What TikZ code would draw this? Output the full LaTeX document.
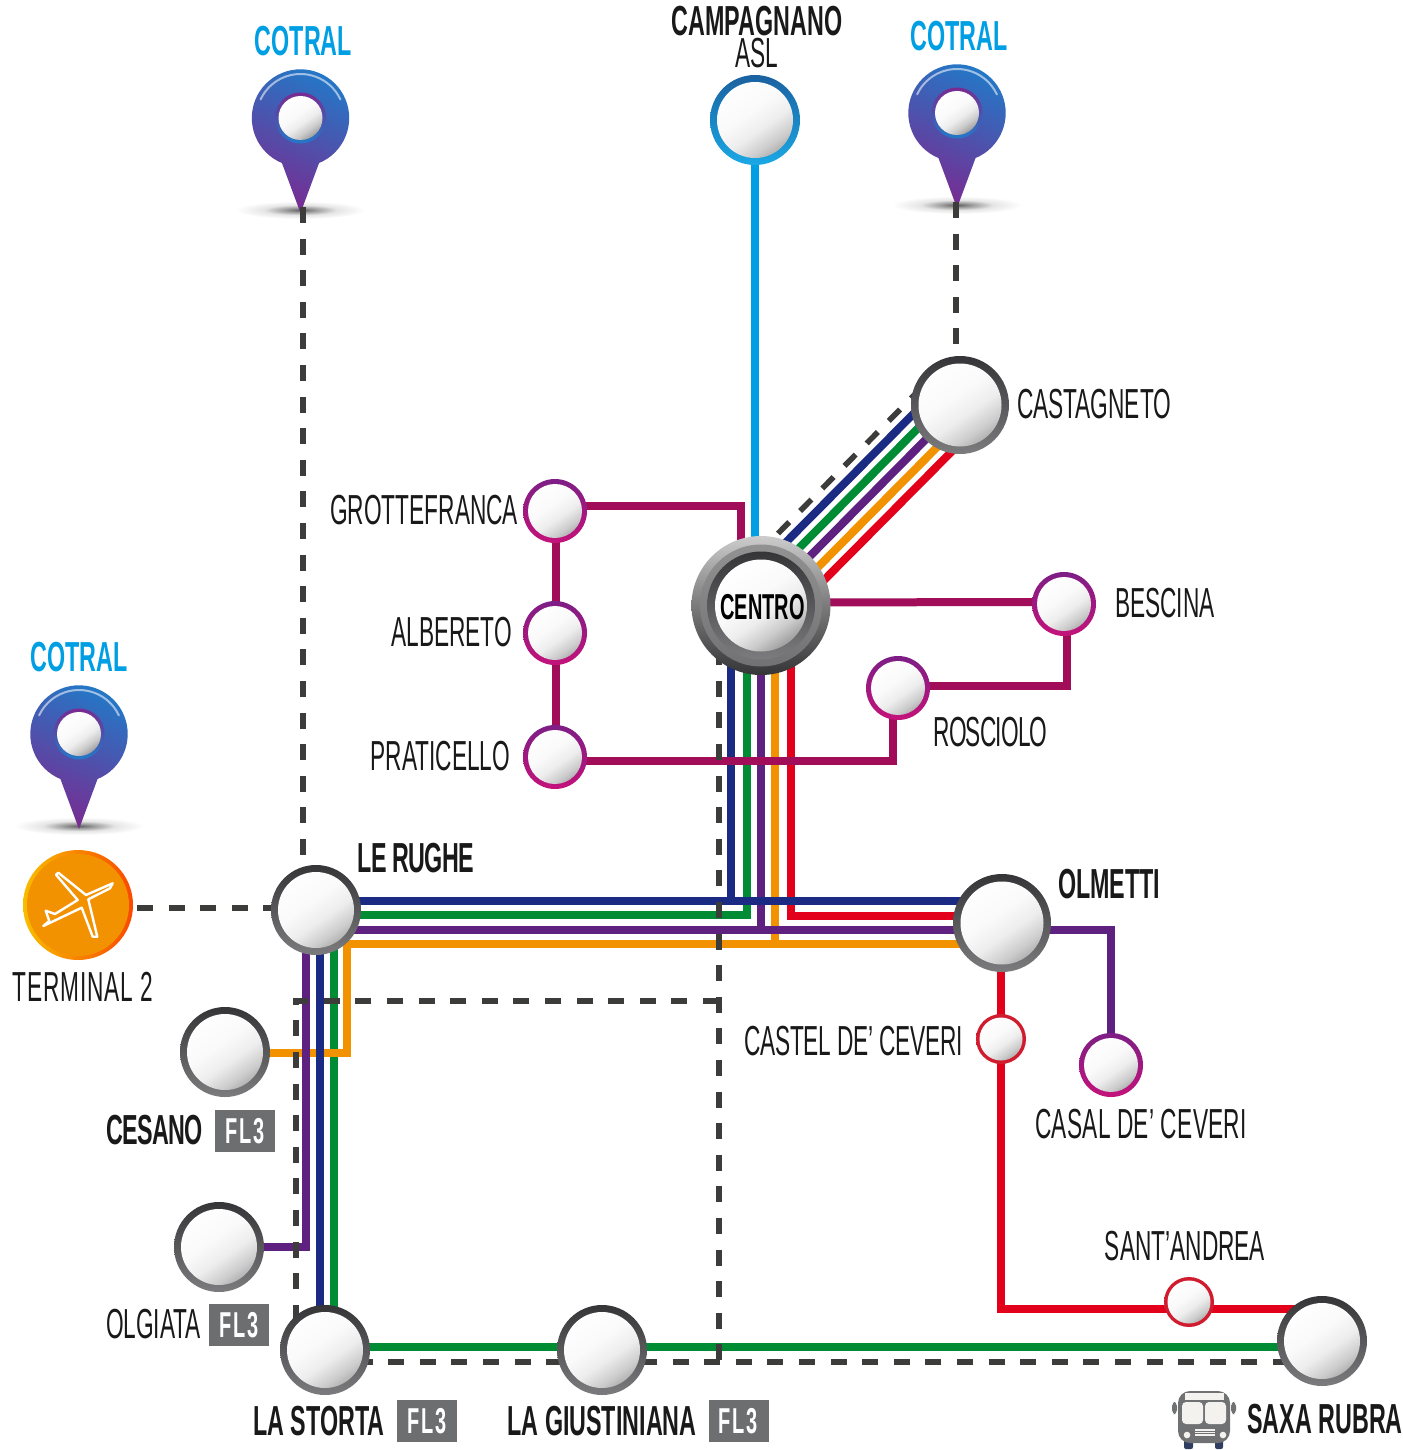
\documentclass[tikz,border=0pt]{standalone}
\usepackage{fontspec}
\setmainfont[FakeStretch=0.54, BoldFeatures={FakeStretch=0.555}]{Liberation Sans}
\usetikzlibrary{positioning,backgrounds}
\definecolor{navyline}{HTML}{1B2A83}
\definecolor{greenline}{HTML}{008C35}
\definecolor{purpleline}{HTML}{5F2180}
\definecolor{orangeline}{HTML}{F39200}
\definecolor{redline}{HTML}{E2001A}
\definecolor{plumline}{HTML}{A20D5A}
\definecolor{cyanline}{HTML}{009FE3}
\definecolor{walkgrey}{HTML}{3C3C3B}
\definecolor{ringdark}{HTML}{353437}
\definecolor{ringgrey}{HTML}{7C7C7E}
\definecolor{badgegrey}{HTML}{6D6E70}
\definecolor{pinblue}{HTML}{2279C8}
\definecolor{pinpurple}{HTML}{7A2A90}
\definecolor{ringplum}{HTML}{7D1E86}
\definecolor{ringmagenta}{HTML}{C4127A}
\definecolor{ringred}{HTML}{D01C2E}
\definecolor{busgrey}{HTML}{707173}
\definecolor{buscream}{HTML}{F3F2EE}
\definecolor{busnavy}{HTML}{2E3D60}
\pgfdeclareradialshading{pinshadow}{\pgfpoint{0bp}{0bp}}{color(0bp)=(black!62); color(6bp)=(black!38); color(14bp)=(black!10); color(25bp)=(white); color(50bp)=(white)}
\pgfdeclareverticalshading{ballgrad}{100bp}{color(0bp)=(black!40); color(25bp)=(black!38); color(34bp)=(black!20); color(44bp)=(black!7); color(55bp)=(black!2); color(75bp)=(white); color(100bp)=(white)}
\tikzset{
  ballshade/.style={shading=ballgrad, shading angle=35},
  stn/.style n args={4}{circle, inner sep=0pt, outer sep=0pt, minimum size=#1*1pt,
    top color=#3, bottom color=#4,
    path picture={\shade[ballshade] (path picture bounding box.center) circle[radius=#1-#2];}},
  bigstn/.style={stn={45}{7}{ringdark}{ringgrey}},
  hubstn/.style={stn={49}{7.5}{ringdark}{ringgrey}},
  bluestn/.style={stn={45}{7}{pinblue!80!black}{cyanline!90!white}},
  plumstn/.style={stn={32}{5}{ringplum}{ringmagenta}},
  redstn/.style={stn={25}{3.5}{ringred}{ringred}},
  rail/.style={line width=4pt},
  walk/.style={line width=2.8pt, draw=walkgrey, dash pattern=on 8pt off 7.8pt},
  lbl/.style={inner sep=0pt, outer sep=0pt, yshift=.7pt, text height=15pt, text depth=0pt, text=black!90, font=\fontsize{21}{21}\selectfont},
  boldlbl/.style={lbl, font=\fontsize{21}{21}\selectfont\bfseries},
  cotral/.style={boldlbl, text=cyanline},
  fl/.style={fill=badgegrey, text=white, inner sep=0pt, outer sep=0pt, minimum width=30pt, minimum height=21pt,
    text height=12.5pt, text depth=0pt, font=\fontsize{18}{18}\selectfont\bfseries\addfontfeatures{LetterSpace=5}},
  pinmark/.pic={
    \begin{scope}[yscale=-1]
      \shade[shading=pinshadow] (0,-92) ellipse (65 and 9);
      \shade[top color=pinblue, bottom color=pinpurple, shading angle=-25]
        (0,-95) -- (-67.6:48.7) arc (-67.6:247.6:48.7) -- cycle;
      \draw[white, opacity=.55, line width=1pt, line cap=round] (25:44) arc (25:155:44);
      \shade[top color=pinpurple, bottom color=pinblue] (0,0) circle (25.5);
      \shade[ballshade] (0,0) circle (22);
    \end{scope}
    \coordinate (-tip) at (0,89);
    \coordinate (-top) at (0,-48.7);
  },
}
\begin{document}
\begin{tikzpicture}[x=0.5pt, y=-0.5pt]
  \useasboundingbox (0,0) rectangle (1402,1450);

  % stations
  \node[plumstn] (grotte) at (555,511) {};
  \node[plumstn] (albereto) at (555,633) {};
  \node[plumstn] (praticello) at (555,757) {};
  \node[plumstn] (bescina) at (1064,604) {};
  \node[plumstn] (rosciolo) at (898,688) {};
  \node[plumstn] (casal) at (1111,1065) {};
  \node[redstn] (castel) at (1001,1039) {};
  \node[redstn] (sant) at (1189,1302) {};
  \node[bluestn] (campagnano) at (755,120) {};
  \node[hubstn] (castagneto) at (960,405) {};
  \node[hubstn] (olmetti) at (1002,923) {};
  \node[bigstn] (lerughe) at (316,910) {};
  \node[bigstn] (cesano) at (225,1052) {};
  \node[bigstn] (olgiata) at (219,1247) {};
  \node[bigstn] (lastorta) at (325,1350) {};
  \node[bigstn] (giustiniana) at (602,1350) {};
  \node[bigstn] (saxa) at (1322,1341) {};
  \node[circle, inner sep=0pt, outer sep=0pt, minimum size=55pt, left color=orangeline!60!yellow, right color=orangeline!50!red] (terminal) at (78,905) {};
  \node[circle, inner sep=0pt, minimum size=51pt, fill=orangeline] (terminalcore) at (terminal.center) {};
  \draw[white, line width=1.2pt, line join=round, shift={(terminal.center)}] (34.7,-21.7) -- (8,-10) -- (-19.7,-32.3) -- (-22,-30.3) -- (-.3,-5) -- (-23,9) -- (-32.3,5.7) -- (-28.7,16) -- (-34.7,21) -- (3.7,2.7) -- (14.7,31.7) -- (19.3,31.7) -- (10.3,-5.7) -- (32,-16.7) -- cycle;
  \node[circle, inner sep=0pt, outer sep=0pt, minimum size=69.5pt, top color=black!20, bottom color=ringdark, middle color=black!52,
    path picture={
      \shade[top color=black!42, bottom color=ringgrey!90!black] (path picture bounding box.center) circle (61);
      \shade[top color=ringdark, bottom color=ringgrey] (path picture bounding box.center) circle (54);
      \shade[ballshade] (path picture bounding box.center) circle (46);
    }, text height=14.4pt, text depth=0pt, font=\fontsize{18}{18}\selectfont\bfseries] (centro) at (761,605.5) {\hspace*{1.5pt}CENTRO};

  \begin{scope}[on background layer]
    \pic (pina) at (300.5,118) {pinmark};
    \pic (pinb) at (957,113) {pinmark};
    \pic (pinc) at (79,734) {pinmark};

    % lines
    \draw[rail, greenline] ([shift={(-14,0)}]centro.center) |- ([shift={(0,5)}]lerughe.center);
    \draw[rail, greenline] ([shift={(18,0)}]lerughe.center) -- ([shift={(9,0)}]lastorta.center);
    \draw[rail, greenline] ([shift={(0,-3)}]lastorta.center) -- ([shift={(0,6)}]saxa.center);
    \draw[rail, orangeline] ([shift={(14,0)}]centro.center) |- ([shift={(0,21)}]olmetti.center);
    \draw[rail, orangeline] ([shift={(0,21)}]olmetti.center) -| ([shift={(122,1)}]cesano.center) -- ([shift={(0,1)}]cesano.center);
    \draw[rail, purpleline] (centro.center) |- ([shift={(0,7)}]olmetti.center);
    \draw[rail, purpleline] ([shift={(0,20)}]lerughe.center) -- ([shift={(0,7)}]olmetti.center) -| (casal.center);
    \draw[rail, purpleline] ([shift={(-10,0)}]lerughe.center) |- (olgiata.center);
    \draw[rail, redline] ([shift={(30,0)}]centro.center) |- ([shift={(0,-7)}]olmetti.center);
    \draw[rail, redline] ([shift={(-1,0)}]olmetti.center) -- (castel.center);
    \draw[rail, redline] (castel.center) |- ([shift={(0,-32)}]saxa.center);
    \draw[rail, navyline] ([shift={(-30,0)}]centro.center) |- ([shift={(0,-22)}]olmetti.center);
    \draw[rail, navyline] ([shift={(0,-9)}]lerughe.center) -- ([shift={(0,-22)}]olmetti.center);
    \draw[rail, navyline] ([shift={(4,0)}]lerughe.center) -- ([shift={(-5,0)}]lastorta.center);
    \draw[rail, navyline] ([shift={(-19,-19)}]centro.center) -- ([shift={(-19,-19)}]castagneto.center);
    \draw[rail, greenline] ([shift={(-9.5,-9.5)}]centro.center) -- ([shift={(-9.5,-9.5)}]castagneto.center);
    \draw[rail, purpleline] (centro.center) -- (castagneto.center);
    \draw[rail, orangeline] ([shift={(9.5,9.5)}]centro.center) -- ([shift={(9.5,9.5)}]castagneto.center);
    \draw[rail, redline] ([shift={(19,19)}]centro.center) -- ([shift={(19,19)}]castagneto.center);
    \draw[rail, cyanline] (campagnano.center) -- (campagnano.center |- centro.center);
    \draw[rail, plumline] ([shift={(0,-5)}]grotte.center) -| ([shift={(-20,0)}]centro.center);
    \draw[rail, plumline] ([shift={(1,0)}]grotte.center) -- ([shift={(1,0)}]praticello.center);
    \draw[rail, plumline] ([shift={(0,4)}]praticello.center) -| ([shift={(-5,0)}]rosciolo.center);
    \draw[rail, plumline] ([shift={(0,-2)}]rosciolo.center) -| ([shift={(3,0)}]bescina.center);
    \draw[rail, plumline] ([shift={(0,-3)}]centro.center) -- ([shift={(0,-2)}]bescina.center);

    % walking links
    \coordinate (walkcorner) at (719,1001);
    \coordinate (rugheup) at ([shift={(-13,0)}]lerughe.center);
    \coordinate (castup) at ([shift={(-4,0)}]castagneto.center);
    \coordinate (termout) at ([shift={(59,3)}]terminal.center);
    \coordinate (walkdown) at ([shift={(-42,12)}]centro.center);
    \coordinate (walkbase) at ([shift={(0,21)}]saxa.center);
    \draw[walk] (pina-tip -| rugheup) -- (rugheup);
    \draw[walk] (pinb-tip -| castup) -- (castup);
    \draw[walk] (termout) -- (termout -| lerughe.center);
    \draw[walk] ([shift={(17,-72)}]centro.center) -- ([shift={(-28,-28)}]castagneto.center);
    \draw[walk] (walkdown) -- (walkdown |- walkbase);
    \draw[walk] ([shift={(0,12)}]lastorta.center) -- (walkbase);
    \draw[walk] (walkcorner) -| ([shift={(-29,0)}]lastorta.center);
  \end{scope}

  % labels
  \node[cotral, above=6pt of pina-top, xshift=1.5pt] (cotrala) {COTRAL};
  \node[cotral, above=6pt of pinb-top, xshift=1pt] (cotralb) {COTRAL};
  \node[cotral, above=6pt of pinc-top] (cotralc) {COTRAL};
  \node[lbl, above=2.8pt of campagnano, xshift=1pt] (asllbl) {ASL};
  \node[boldlbl, above=.3pt of asllbl] (camplbl) {CAMPAGNANO};
  \node[lbl, right=4pt of castagneto] (castlbl) {CASTAGNETO};
  \node[lbl, left=2.5pt of grotte] (grottelbl) {GROTTEFRANCA};
  \node[lbl, left=5.5pt of albereto] (alblbl) {ALBERETO};
  \node[lbl, left=6.5pt of praticello] (pratlbl) {PRATICELLO};
  \node[lbl, right=9.5pt of bescina] (beslbl) {BESCINA};
  \node[lbl, below right=3.5pt and 6.5pt of rosciolo, font=\fontsize{21}{21}\selectfont\addfontfeatures{LetterSpace=-2}] (roslbl) {ROSCIOLO};
  \node[boldlbl, above right=2pt and 5pt of lerughe, font=\fontsize{21}{21}\selectfont\bfseries\addfontfeatures{LetterSpace=-1.8}] (ruglbl) {LE RUGHE};
  \node[boldlbl, right=3.5pt of olmetti, yshift=19pt] (olmlbl) {OLMETTI};
  \node[lbl, below=6.5pt of terminal, xshift=2.5pt, font=\fontsize{21}{21}\selectfont\addfontfeatures{LetterSpace=2}] (termlbl) {TERMINAL 2};
  \node[fl, below=6.5pt of cesano, xshift=10pt] (flcesano) {FL3};
  \node[boldlbl, left=6pt of flcesano, font=\fontsize{21}{21}\selectfont\bfseries\addfontfeatures{LetterSpace=-1.5}] (ceslbl) {CESANO};
  \node[fl, below=6pt of olgiata, xshift=10pt] (flolgiata) {FL3};
  \node[lbl, left=4pt of flolgiata] (olglbl) {OLGIATA};
  \node[boldlbl, below=6pt of lastorta, xshift=-3pt] (storlbl) {LA STORTA};
  \node[fl, right=6pt of storlbl] (flstorta) {FL3};
  \node[boldlbl, below=6pt of giustiniana] (giuslbl) {LA GIUSTINIANA};
  \node[fl, right=6pt of giuslbl] (flgius) {FL3};
  \node[boldlbl, below=9.5pt of saxa, xshift=1.5pt] (saxalbl) {SAXA RUBRA};
  \node[lbl, left=6.5pt of castel, yshift=-1.5pt, font=\fontsize{21}{21}\selectfont\addfontfeatures{LetterSpace=-.5}] (castellbl) {CASTEL DE’ CEVERI};
  \node[lbl, below=6.5pt of casal, xshift=15pt, font=\fontsize{21}{21}\selectfont\addfontfeatures{LetterSpace=.7}] (casallbl) {CASAL DE’ CEVERI};
  \node[lbl, above=7.5pt of sant, xshift=-2pt] (santlbl) {SANT’ANDREA};

  % bus
  \fill[busnavy, rounded corners=1pt] (1184,1438) rectangle (1193,1449);
  \fill[busnavy, rounded corners=1pt] (1215,1438) rectangle (1223,1449);
  \fill[busgrey, rounded corners=2pt] (1172,1402) rectangle (1177,1414);
  \fill[busgrey, rounded corners=2pt] (1231,1402) rectangle (1236,1414);
  \fill[busgrey, rounded corners=6pt] (1178,1391) rectangle (1230,1443);
  \fill[buscream] (1185,1393) rectangle (1224,1400);
  \fill[buscream, rounded corners=2pt] (1182,1402) rectangle (1203,1424);
  \fill[buscream, rounded corners=2pt] (1205,1402) rectangle (1226,1424);
  \fill[buscream] (1187,1435) circle (3.3);
  \fill[buscream] (1223,1435) circle (3.3);
  \fill[buscream] (1195,1429) rectangle (1215,1430.5);
  \fill[buscream] (1195,1431.5) rectangle (1215,1433);
  \fill[buscream] (1195,1434) rectangle (1215,1435.5);
\end{tikzpicture}
\end{document}
